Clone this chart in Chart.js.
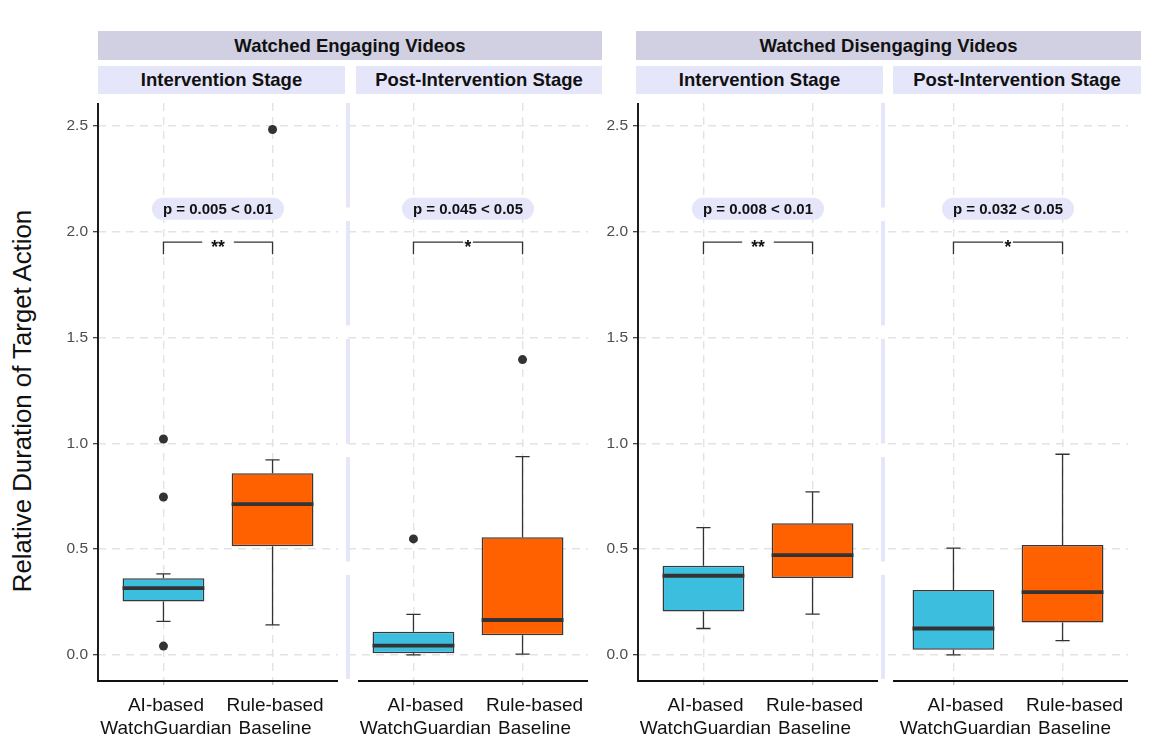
<!DOCTYPE html>
<html><head><meta charset="utf-8">
<script src="https://cdn.jsdelivr.net/npm/chart.js@4.4.1/dist/chart.umd.min.js"></script>
<style>
html,body{margin:0;padding:0;background:#fff;}
body{width:1163px;height:755px;overflow:hidden;position:relative;font-family:'Liberation Sans',Arial,sans-serif;}
.strip{position:absolute;display:flex;align-items:center;justify-content:center;font-weight:bold;font-size:18.5px;color:#111;white-space:nowrap;}
.g{background:#d0d0e2;top:31px;height:29px;}
.s{background:#e6e6fa;top:66px;height:28px;}
canvas{position:absolute;}
#ytitle{position:absolute;left:22px;top:401px;transform:translate(-50%,-50%) rotate(-90deg);font-size:25.8px;color:#111;white-space:nowrap;}
</style></head><body>
<div id="ytitle">Relative Duration of Target Action</div>
<script>
// ---------- data ----------
const groupTitles = ['Watched Engaging Videos', 'Watched Disengaging Videos'];
const stageTitles = ['Intervention Stage', 'Post-Intervention Stage'];
const categories = [['AI-based', 'WatchGuardian'], ['Rule-based', 'Baseline']];
const categoryPositions = [1, 2];
const yTicks = [0, 0.5, 1.0, 1.5, 2.0, 2.5];
// panels: Engaging/Intervention, Engaging/Post, Disengaging/Intervention, Disengaging/Post
const q1Values     = [[0.252, 0.513], [0.008, 0.093], [0.205, 0.363], [0.025, 0.153]];
const medianValues = [[0.316, 0.712], [0.044, 0.165], [0.374, 0.472], [0.125, 0.297]];
const q3Values     = [[0.362, 0.858], [0.110, 0.556], [0.421, 0.622], [0.307, 0.519]];
const whiskerLow   = [[0.159, 0.142], [0.000, 0.004], [0.125, 0.193], [0.000, 0.068]];
const whiskerHigh  = [[0.383, 0.921], [0.192, 0.937], [0.601, 0.770], [0.505, 0.948]];
const outliers     = [[[1.020, 0.746, 0.042], [2.482]], [[0.548], [1.395]], [[], []], [[], []]];
const pValueLabels = ['p = 0.005 < 0.01', 'p = 0.045 < 0.05', 'p = 0.008 < 0.01', 'p = 0.032 < 0.05'];
const sigStars = ['**', '*', '**', '*'];
const pLabelLevel = 2.107;
const bracketLevel = 1.95;
const bracketTipLevel = 1.893;

// ---------- layout / style ----------
const FONT = "'Liberation Sans', Arial, sans-serif";
const boxColors = ['#3cbfdf', '#ff6100'];
const panelLayout = [
  {left: 98,    strip: [98, 345],   showY: true,  axisInset: 0,  sep: null, labelOffset: 2.5},
  {left: 348.3, strip: [356, 602],  showY: false, axisInset: 10, sep: 0,    labelOffset: 12},
  {left: 638,   strip: [636, 883],  showY: true,  axisInset: 0,  sep: null, labelOffset: 2},
  {left: 888.3, strip: [893, 1141], showY: false, axisInset: 5,  sep: -5,   labelOffset: 12}
];
const groupStrips = [[98, 602], [636, 1141]];

groupStrips.forEach((g, i) => {
  const d = document.createElement('div');
  d.className = 'strip g';
  d.style.left = g[0] + 'px'; d.style.width = (g[1] - g[0]) + 'px';
  d.textContent = groupTitles[i];
  document.body.appendChild(d);
});
panelLayout.forEach((pl, i) => {
  const d = document.createElement('div');
  d.className = 'strip s';
  d.style.left = pl.strip[0] + 'px'; d.style.width = (pl.strip[1] - pl.strip[0]) + 'px';
  d.textContent = stageTitles[i % 2];
  document.body.appendChild(d);
});

function roundRectPath(ctx, x, y, w, h, r) {
  ctx.beginPath();
  ctx.moveTo(x + r, y);
  ctx.lineTo(x + w - r, y);
  ctx.arc(x + w - r, y + r, r, -Math.PI / 2, Math.PI / 2);
  ctx.lineTo(x + r, y + h);
  ctx.arc(x + r, y + r, r, Math.PI / 2, Math.PI * 1.5);
  ctx.closePath();
}

const boxExtras = {
  id: 'boxExtras',
  beforeDatasetsDraw(chart, args, o) {
    const {ctx, scales: {x, y}} = chart;
    const p = o.panel;
    ctx.save();
    ctx.strokeStyle = '#333';
    ctx.lineWidth = 1.3;
    categoryPositions.forEach((cx, j) => {
      const px = x.getPixelForValue(cx);
      const capL = x.getPixelForValue(cx - 0.065), capR = x.getPixelForValue(cx + 0.065);
      const yHi = y.getPixelForValue(whiskerHigh[p][j]), yQ3 = y.getPixelForValue(q3Values[p][j]);
      const yLo = y.getPixelForValue(whiskerLow[p][j]), yQ1 = y.getPixelForValue(q1Values[p][j]);
      ctx.beginPath();
      ctx.moveTo(px, yQ3); ctx.lineTo(px, yHi);
      ctx.moveTo(capL, yHi); ctx.lineTo(capR, yHi);
      ctx.moveTo(px, yQ1); ctx.lineTo(px, yLo);
      ctx.moveTo(capL, yLo); ctx.lineTo(capR, yLo);
      ctx.stroke();
    });
    ctx.restore();
  },
  afterDatasetsDraw(chart, args, o) {
    const {ctx, scales: {x, y}} = chart;
    const p = o.panel;
    ctx.save();
    // medians
    ctx.strokeStyle = '#333';
    ctx.lineWidth = 3.8;
    categoryPositions.forEach((cx, j) => {
      const l = x.getPixelForValue(cx - 0.375), r = x.getPixelForValue(cx + 0.375);
      const ym = y.getPixelForValue(medianValues[p][j]);
      ctx.beginPath(); ctx.moveTo(l, ym); ctx.lineTo(r, ym); ctx.stroke();
    });
    // bracket with stars
    const bl = x.getPixelForValue(categoryPositions[0]), br = x.getPixelForValue(categoryPositions[1]);
    const by = y.getPixelForValue(bracketLevel), bt = y.getPixelForValue(bracketTipLevel);
    const mid = (bl + br) / 2;
    ctx.font = 'bold 17.5px ' + FONT;
    const sw = ctx.measureText(sigStars[p]).width;
    const half = sw / 2 + (sigStars[p].length > 1 ? 9 : 1.5);
    ctx.lineWidth = 1.3;
    ctx.strokeStyle = '#333';
    ctx.beginPath();
    ctx.moveTo(bl, bt); ctx.lineTo(bl, by); ctx.lineTo(mid - half, by);
    ctx.moveTo(mid + half, by); ctx.lineTo(br, by); ctx.lineTo(br, bt);
    ctx.stroke();
    ctx.fillStyle = '#111';
    ctx.textAlign = 'center';
    ctx.textBaseline = 'alphabetic';
    ctx.fillText(sigStars[p], mid, by + 11);
    // p-value label
    const py = y.getPixelForValue(pLabelLevel);
    const pxm = x.getPixelForValue((categoryPositions[0] + categoryPositions[1]) / 2);
    ctx.font = 'bold 15px ' + FONT;
    const tw = ctx.measureText(pValueLabels[p]).width;
    const w = tw + 22, h = 22;
    ctx.fillStyle = '#e6e6fa';
    roundRectPath(ctx, pxm - w / 2, py - h / 2, w, h, 11);
    ctx.fill();
    ctx.fillStyle = '#111';
    ctx.textBaseline = 'middle';
    ctx.fillText(pValueLabels[p], pxm, py + 1);
    ctx.restore();
  },
  afterDraw(chart, args, o) {
    const {ctx, chartArea: ca} = chart;
    const pl = o.layout;
    ctx.save();
    ctx.strokeStyle = '#111';
    ctx.lineWidth = 1.9;
    ctx.beginPath();
    ctx.moveTo(ca.left + pl.axisInset, ca.bottom); ctx.lineTo(ca.right, ca.bottom);
    if (pl.showY) { ctx.moveTo(ca.left, ca.top); ctx.lineTo(ca.left, ca.bottom + 0.95); }
    ctx.stroke();
    if (pl.sep !== null) {
      ctx.strokeStyle = '#e6e6fa';
      ctx.lineWidth = 4;
      ctx.setLineDash([104.5, 13.5]);
      ctx.beginPath();
      ctx.moveTo(ca.left + pl.sep, ca.top);
      ctx.lineTo(ca.left + pl.sep, ca.bottom - 2);
      ctx.stroke();
    }
    ctx.restore();
  }
};

panelLayout.forEach((pl, i) => {
  const cv = document.createElement('canvas');
  cv.width = 340; cv.height = 660;
  cv.style.width = '340px'; cv.style.height = '660px';
  cv.style.left = (pl.left - 70) + 'px';
  cv.style.top = '95px';
  document.body.appendChild(cv);

  const boxData = categoryPositions.map((cx, j) => ({x: cx, y: [q1Values[i][j], q3Values[i][j]]}));
  const outlierData = [];
  categoryPositions.forEach((cx, j) => outliers[i][j].forEach(v => outlierData.push({x: cx, y: v})));

  new Chart(cv, {
    type: 'bar',
    data: {
      datasets: [
        {type: 'scatter', data: outlierData, pointRadius: 4.5, pointHoverRadius: 4.5,
         backgroundColor: '#333', borderWidth: 0, order: 1},
        {type: 'bar', data: boxData, backgroundColor: boxColors, borderColor: '#383838',
         borderWidth: 1.5, borderSkipped: false, barPercentage: 0.75, categoryPercentage: 1,
         order: 2}
      ]
    },
    options: {
      responsive: false,
      animation: false,
      devicePixelRatio: 1,
      events: [],
      layout: {padding: {top: 8, right: 30, bottom: 0, left: 0}},
      plugins: {
        legend: {display: false},
        tooltip: {enabled: false},
        boxExtras: {panel: i, layout: pl}
      },
      scales: {
        x: {
          type: 'linear', min: 0.4, max: 2.6, offset: false,
          afterBuildTicks: s => { s.ticks = categoryPositions.map(v => ({value: v})); },
          afterFit: s => { s.height = 74; s.paddingLeft = 0; s.paddingRight = 0; },
          grid: {display: true, offset: false, color: '#e3e3e3', lineWidth: 1.4, drawTicks: true,
                 tickLength: 4, tickColor: '#b8b8b8', tickWidth: 1.2, tickBorderDash: []},
          border: {display: false, dash: [8, 6]},
          ticks: {
            callback: (v, idx) => categories[idx],
            font: {family: FONT, size: 19, lineHeight: 1.22},
            color: '#111', padding: 9, maxRotation: 0, minRotation: 0, autoSkip: false,
            labelOffset: pl.labelOffset
          }
        },
        y: {
          type: 'linear', min: -0.123, max: 2.607,
          afterBuildTicks: s => { s.ticks = yTicks.map(v => ({value: v})); },
          afterFit: s => { s.width = 70; s.paddingTop = 0; s.paddingBottom = 0; },
          grid: {color: '#e3e3e3', lineWidth: 1.4, drawTicks: pl.showY, tickLength: 5,
                 tickColor: '#333', tickWidth: 1.2, tickBorderDash: []},
          border: {display: false, dash: [8, 6]},
          ticks: {display: pl.showY, callback: v => Number(v).toFixed(1),
                  font: {family: FONT, size: 15.5}, color: '#4d4d4d', padding: 5}
        }
      }
    },
    plugins: [boxExtras]
  });
});
</script>
</body></html>
